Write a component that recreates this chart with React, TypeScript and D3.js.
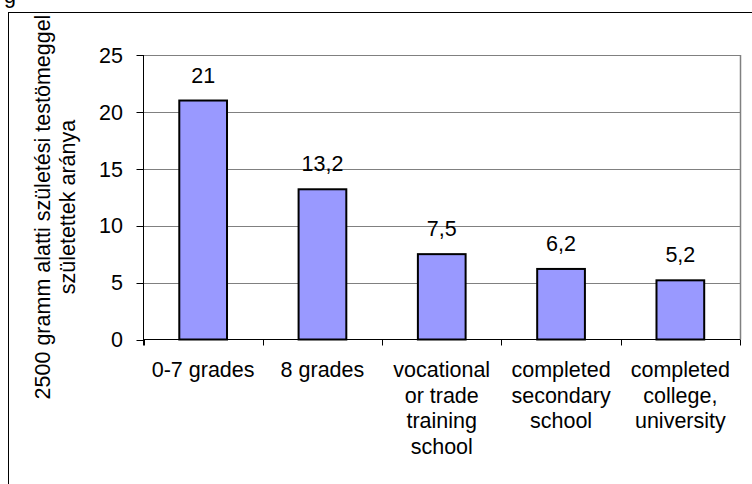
import React from "react";
import * as d3 from "d3";

const categories: string[][] = [
  ["0-7 grades"],
  ["8 grades"],
  ["vocational", "or trade", "training", "school"],
  ["completed", "secondary", "school"],
  ["completed", "college,", "university"],
];
const values: number[] = [21, 13.2, 7.5, 6.2, 5.2];
const valueLabels: string[] = ["21", "13,2", "7,5", "6,2", "5,2"];
const yTicks: number[] = [0, 5, 10, 15, 20, 25];
const yTitle: string[] = ["2500 gramm alatti születési testömeggel", "születettek aránya"];

const W = 752;
const H = 484;
const FONT = "'Liberation Sans', Arial, sans-serif";
const FS = 21.5;

export default function App() {
  const left = 143.5;
  const right = 740;
  const top = 55;
  const bottom = 339.5;
  const x = d3
    .scaleBand<number>()
    .domain(values.map((_, i) => i))
    .range([left, right])
    .padding(0);
  const y = d3.scaleLinear().domain([0, 25]).range([bottom, top]);
  const bw = x.bandwidth() * 0.4;
  const bounds = [...values.map((_, i) => x(i) as number), right];

  return (
    <svg
      width={W}
      height={H}
      style={{ position: "absolute", left: 0, top: 0, background: "#fff" }}
      fontFamily={FONT}
    >
      <rect x={0} y={0} width={W} height={H} fill="#fff" />
      <text x={4} y={3} fontSize={FS} fill="#000">g</text>
      <rect x={8.5} y={12.5} width={900} height={900} fill="none" stroke="#000" strokeWidth={1} />

      {/* gridlines */}
      {yTicks.filter((t) => t > 0).map((t) => (
        <line key={t} x1={left} x2={right} y1={Math.round(y(t)) + 0.5} y2={Math.round(y(t)) + 0.5} stroke="#808080" strokeWidth={1} />
      ))}
      <line x1={right + 0.5} x2={right + 0.5} y1={top} y2={bottom} stroke="#808080" strokeWidth={1.5} />

      {/* bars */}
      {values.map((v, i) => {
        const cx = (x(i) as number) + x.bandwidth() / 2;
        return (
          <g key={i}>
            <rect x={cx - bw / 2} y={y(v)} width={bw} height={bottom - y(v)} fill="#9999FF" stroke="#000" strokeWidth={2} />
            <text x={cx} y={y(v) - 18} textAnchor="middle" fontSize={FS} fill="#000">{valueLabels[i]}</text>
          </g>
        );
      })}

      {/* y axis */}
      <line x1={left} x2={left} y1={top} y2={bottom + 6} stroke="#000" strokeWidth={1} />
      {yTicks.map((t) => (
        <g key={t}>
          <line x1={left - 7} x2={left} y1={Math.round(y(t)) + 0.5} y2={Math.round(y(t)) + 0.5} stroke="#000" strokeWidth={1} />
          <text x={123} y={y(t)} dy="0.36em" textAnchor="end" fontSize={FS} fill="#000">{t}</text>
        </g>
      ))}

      {/* x axis */}
      <line x1={left} x2={right} y1={bottom} y2={bottom} stroke="#000" strokeWidth={1} />
      {bounds.map((b, i) => (
        <line key={i} x1={Math.round(b) + 0.5} x2={Math.round(b) + 0.5} y1={bottom} y2={bottom + 6} stroke="#000" strokeWidth={1} />
      ))}
      {categories.map((lines, i) => {
        const cx = (x(i) as number) + x.bandwidth() / 2;
        return (
          <text key={i} x={cx} y={377} textAnchor="middle" fontSize={FS} fill="#000">
            {lines.map((l, j) => (
              <tspan key={j} x={cx} y={377 + j * 25.5}>{l}</tspan>
            ))}
          </text>
        );
      })}

      {/* y title */}
      <text transform="translate(0,207) rotate(-90)" textAnchor="middle" fontSize={FS} fill="#000">
        <tspan x={0} y={50}>{yTitle[0]}</tspan>
        <tspan x={0} y={75}>{yTitle[1]}</tspan>
      </text>
    </svg>
  );
}
